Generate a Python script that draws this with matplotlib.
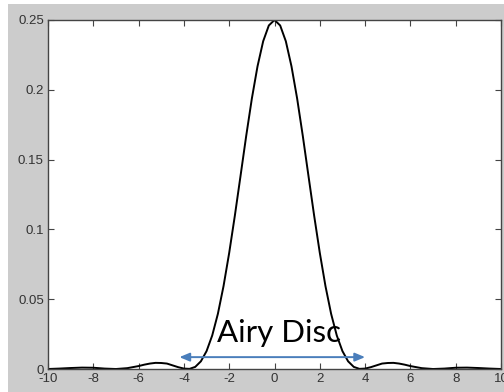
import matplotlib
matplotlib.use("Agg")
import matplotlib.pyplot as plt
from matplotlib.patches import Rectangle

# Intensity profile
x_vals = [-10.0, -9.5, -9.0, -8.5, -8.0, -7.5, -7.0, -6.5, -6.0,
          -5.75, -5.5, -5.25, -5.0, -4.75, -4.5, -4.25, -4.0, -3.75, -3.5,
          -3.25, -3.0, -2.75, -2.5, -2.25, -2.0, -1.75, -1.5, -1.25, -1.0,
          -0.75, -0.5, -0.25, 0.0, 0.25, 0.5, 0.75, 1.0, 1.25, 1.5, 1.75,
          2.0, 2.25, 2.5, 2.75, 3.0, 3.25, 3.5, 3.75, 4.0, 4.25, 4.5, 4.75,
          5.0, 5.25, 5.5, 5.75, 6.0, 6.5, 7.0, 7.5, 8.0, 8.5, 9.0, 9.5, 10.0]
y_vals = [0.0000, 0.0003, 0.0007, 0.0010, 0.0009, 0.0003, 0.0000, 0.0006, 0.0021,
          0.0031, 0.0039, 0.0044, 0.0043, 0.0039, 0.0026, 0.0013, 0.0003, 0.0001, 0.0015,
          0.0055, 0.0128, 0.0240, 0.0395, 0.0594, 0.0832, 0.1099, 0.1383, 0.1669, 0.1937,
          0.2168, 0.2348, 0.2461, 0.2500, 0.2461, 0.2348, 0.2168, 0.1937, 0.1669, 0.1383, 0.1099,
          0.0832, 0.0594, 0.0395, 0.0240, 0.0128, 0.0055, 0.0015, 0.0001, 0.0003, 0.0013, 0.0026, 0.0039,
          0.0043, 0.0044, 0.0039, 0.0031, 0.0021, 0.0006, 0.0000, 0.0003, 0.0009, 0.0010, 0.0007, 0.0003, 0.0000]

x_ticks = [-10, -8, -6, -4, -2, 0, 2, 4, 6, 8, 10]
x_tick_labels = ["-10", "-8", "-6", "-4", "-2", "0", "2", "4", "6", "8", "10"]
y_ticks = [0, 0.05, 0.1, 0.15, 0.2, 0.25]
y_tick_labels = ["0", "0.05", "0.1", "0.15", "0.2", "0.25"]

annotation_text = "Airy Disc"
arrow_start = -4.2
arrow_end = 4.0
arrow_y = 0.0085

W, H = 504, 392
fig = plt.figure(figsize=(W / 100, H / 100), dpi=100, facecolor="white")
fig.patches.append(Rectangle((8 / W, 0), 1 - 8 / W, 1 - 4 / H, transform=fig.transFigure,
                             facecolor="#cccccc", edgecolor="none", zorder=-10))

ax = fig.add_axes([48 / W, 1 - 369 / H, (501 - 48) / W, (369 - 20) / H])
ax.set_facecolor("white")
ax.plot(x_vals, y_vals, color="black", lw=1.4)

ax.set_xlim(-10, 10)
ax.set_ylim(0, 0.25)
ax.set_xticks(x_ticks)
ax.set_xticklabels(x_tick_labels)
ax.set_yticks(y_ticks)
ax.set_yticklabels(y_tick_labels)
ax.tick_params(direction="in", length=4, width=0.8, color="#444444",
               top=True, right=True, labelsize=9.5, labelcolor="#333333", pad=3)
for lab in ax.get_xticklabels() + ax.get_yticklabels():
    lab.set_family("Liberation Sans")
for sp in ax.spines.values():
    sp.set_color("#444444")
    sp.set_linewidth(1.0)

ax.annotate("", xy=(arrow_start, arrow_y), xytext=(arrow_end, arrow_y),
            arrowprops=dict(arrowstyle="<|-|>,head_length=0.6,head_width=0.25",
                            color="#4a7ebb", lw=1.4, shrinkA=0, shrinkB=0))
ax.text(0.2, 0.0193, annotation_text, ha="center", va="baseline",
        fontsize=22.5, family="Lato", color="black")

fig.savefig("out.png", dpi=100, facecolor=fig.get_facecolor())
